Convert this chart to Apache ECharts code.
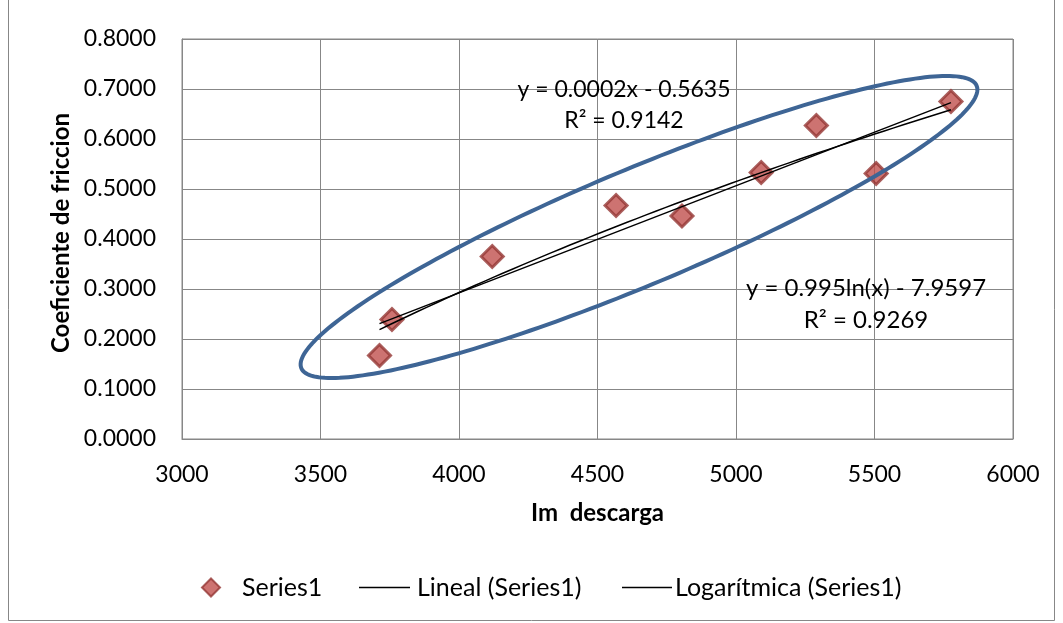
<!DOCTYPE html>
<html>
<head>
<meta charset="utf-8">
<script src="https://cdn.jsdelivr.net/npm/echarts@6/dist/echarts.min.js"></script>
<style>
  html, body { margin: 0; padding: 0; background: #fff; }
  #chart { width: 1063px; height: 623px; }
</style>
</head>
<body>
<div id="chart"></div>
<script>
// ---- data ----
const imDescarga = [3713, 3758, 4120, 4567, 4805, 5091, 5290, 5506, 5776];
const coefFriccion = [0.167, 0.239, 0.365, 0.467, 0.446, 0.533, 0.627, 0.531, 0.675];
const seriesNames = ['Series1', 'Lineal (Series1)', 'Logarítmica (Series1)'];
const xAxisTitle = 'Im  descarga';
const yAxisTitle = 'Coeficiente de friccion';
const linearLabel = ['y = 0.0002x - 0.5635', 'R² = 0.9142'];
const logLabel = ['y = 0.995ln(x) - 7.9597', 'R² = 0.9269'];
const logCoef = [0.995, -7.9597];   // from the chart's log trendline label

// ---- trendlines ----
const n = imDescarga.length;
const mx = imDescarga.reduce((a, b) => a + b, 0) / n;
const my = coefFriccion.reduce((a, b) => a + b, 0) / n;
let sxy = 0, sxx = 0;
for (let i = 0; i < n; i++) {
  sxy += (imDescarga[i] - mx) * (coefFriccion[i] - my);
  sxx += (imDescarga[i] - mx) ** 2;
}
const slope = sxy / sxx, intercept = my - slope * mx;
const xmin = Math.min(...imDescarga), xmax = Math.max(...imDescarga);
const linData = [[xmin, slope * xmin + intercept], [xmax, slope * xmax + intercept]];
const logData = [];
for (let k = 0; k <= 60; k++) {
  const x = xmin + (xmax - xmin) * k / 60;
  logData.push([x, logCoef[0] * Math.log(x) + logCoef[1]]);
}
const scatterData = imDescarga.map((x, i) => [x, coefFriccion[i]]);

const FONT = 'Lato, "Liberation Sans", sans-serif';
const GRID = '#878787';

// ellipse annotation (pixel geometry)
const ell = { cx: 639, cy: 227, a: 366, b: 58, rot: -22.7 };
const ellPts = [];
for (let k = 0; k < 240; k++) {
  const t = 2 * Math.PI * k / 240;
  const c = Math.cos(ell.rot * Math.PI / 180), s = Math.sin(ell.rot * Math.PI / 180);
  const ex = ell.a * Math.cos(t), ey = ell.b * Math.sin(t);
  ellPts.push([ell.cx + ex * c - ey * s, ell.cy + ex * s + ey * c]);
}

const chart = echarts.init(document.getElementById('chart'), null, { renderer: 'canvas' });
const legendText = { fontFamily: FONT, fontSize: 25, color: '#000' };
chart.setOption({
  animation: false,
  backgroundColor: '#fff',
  grid: { left: 182, right: 50, top: 39, bottom: 184, show: true, borderColor: GRID, borderWidth: 1, outerBoundsMode: 'none' },
  xAxis: {
    type: 'value', min: 3000, max: 6000, interval: 500,
    name: xAxisTitle, nameLocation: 'middle', nameGap: 62,
    nameTextStyle: { fontFamily: FONT, fontWeight: 'bold', fontSize: 24, color: '#000' },
    axisLine: { show: true, lineStyle: { color: GRID, width: 1 } },
    axisTick: { show: false },
    axisLabel: { fontFamily: FONT, fontSize: 23, color: '#000', margin: 24, formatter: v => String(v) },
    splitLine: { show: true, lineStyle: { color: GRID, width: 1 } }
  },
  yAxis: {
    type: 'value', min: 0, max: 0.8, interval: 0.1,
    name: yAxisTitle, nameLocation: 'middle', nameGap: 108, nameRotate: 90,
    nameTextStyle: { fontFamily: FONT, fontWeight: 'bold', fontSize: 24, color: '#000', padding: [0, 0, 0, 12] },
    axisLine: { show: true, lineStyle: { color: GRID, width: 1 } },
    axisTick: { show: false },
    axisLabel: { fontFamily: FONT, fontSize: 23, color: '#000', margin: 26, formatter: v => v.toFixed(4) },
    splitLine: { show: true, lineStyle: { color: GRID, width: 1 } }
  },
  legend: [
    { data: [seriesNames[0]], left: 201, top: 575, padding: 0, icon: 'diamond', itemWidth: 18, itemHeight: 18,
      textStyle: Object.assign({}, legendText, { padding: [0, 0, 0, 17] }) },
    { data: [seriesNames[1]], left: 359, top: 575, padding: 0, icon: 'rect', itemWidth: 51, itemHeight: 1.5,
      textStyle: Object.assign({}, legendText, { padding: [0, 0, 0, 2] }) },
    { data: [seriesNames[2]], left: 622, top: 575, padding: 0, icon: 'rect', itemWidth: 50, itemHeight: 1.5,
      textStyle: Object.assign({}, legendText, { padding: [0, 0, 0, -2] }) }
  ],
  series: [
    { name: seriesNames[0], type: 'scatter', data: scatterData, symbol: 'diamond', symbolSize: 22, z: 3,
      itemStyle: { color: '#C0504D', borderColor: '#953735', borderWidth: 3 } },
    { name: seriesNames[1], type: 'line', data: linData, symbol: 'none', z: 4,
      lineStyle: { color: '#000', width: 1.5 }, itemStyle: { color: '#000' } },
    { name: seriesNames[2], type: 'line', data: logData, symbol: 'none', z: 4,
      lineStyle: { color: '#000', width: 1.5 }, itemStyle: { color: '#000' } }
  ],
  graphic: [
    { type: 'rect', shape: { x: 8.5, y: -5, width: 1046, height: 625.5 }, style: { fill: 'none', stroke: GRID, lineWidth: 1 }, z: 0, silent: true },
    { type: 'polygon', shape: { points: ellPts }, style: { fill: 'none', stroke: '#3E6595', lineWidth: 4 }, z: 100, silent: true },
    { type: 'text', style: { text: linearLabel[0], x: 624, y: 90, font: '23px ' + FONT, fill: '#000', textAlign: 'center', textVerticalAlign: 'middle' }, z: 101 },
    { type: 'text', style: { text: linearLabel[1], x: 624, y: 121, font: '23px ' + FONT, fill: '#000', textAlign: 'center', textVerticalAlign: 'middle' }, z: 101 },
    { type: 'text', style: { text: logLabel[0], x: 866, y: 288, font: '24px ' + FONT, fill: '#000', textAlign: 'center', textVerticalAlign: 'middle' }, z: 101 },
    { type: 'text', style: { text: logLabel[1], x: 866, y: 320, font: '24px ' + FONT, fill: '#000', textAlign: 'center', textVerticalAlign: 'middle' }, z: 101 }
  ]
});
</script>
</body>
</html>
